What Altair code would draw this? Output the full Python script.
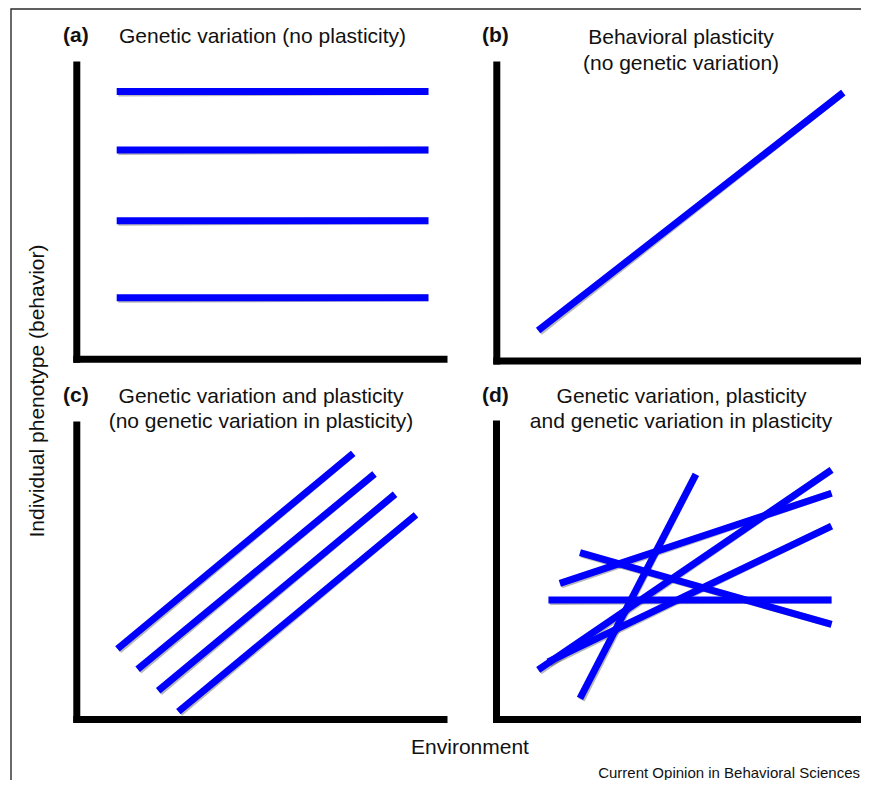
import altair as alt
import pandas as pd

# ---------------- data (conceptual reaction norms, units 0-10 per panel) -------------
# (a) genetic variation, no plasticity
a_x0 = [1.10, 1.10, 1.10, 1.10]
a_x1 = [9.59, 9.59, 9.59, 9.59]
a_y0 = [9.08, 7.09, 4.69, 2.07]
a_y1 = [9.08, 7.09, 4.69, 2.07]
# (b) plasticity, no genetic variation
b_x0 = [1.10]
b_x1 = [9.13]
b_y0 = [1.01]
b_y1 = [9.05]
# (c) genetic variation and plasticity (parallel)
c_x0 = [1.12, 1.67, 2.23, 2.78]
c_x1 = [7.54, 8.12, 8.68, 9.25]
c_y0 = [2.38, 1.69, 0.96, 0.25]
c_y1 = [9.02, 8.32, 7.63, 6.93]
# (d) genetic variation in plasticity
d_x0 = [2.21, 1.11, 1.68, 1.37, 1.38, 2.21]
d_x1 = [5.26, 8.83, 8.83, 8.83, 8.83, 8.83]
d_y0 = [0.70, 1.66, 4.59, 1.93, 4.03, 5.63]
d_y1 = [8.28, 8.43, 7.64, 6.53, 4.03, 3.20]

titles = {
    "a": ["Genetic variation (no plasticity)"],
    "b": ["Behavioral plasticity", "(no genetic variation)"],
    "c": ["Genetic variation and plasticity", "(no genetic variation in plasticity)"],
    "d": ["Genetic variation, plasticity", "and genetic variation in plasticity"],
}
y_label = "Individual phenotype (behavior)"
x_label = "Environment"
credit = "Current Opinion in Behavioral Sciences"

# ---------------- layout --------------------------------------------------------------
W, H = 853, 772
FONT = "Liberation Sans"
BLUE = "#0000ff"

def frame(x0, x1, y0, y1):
    return pd.DataFrame({"x0": x0, "x1": x1, "y0": y0, "y1": y1})

def panel(df, xr, yr):
    x_axis = alt.Axis(orient="bottom", offset=yr[0] - H, domain=True, domainColor="black",
                      domainWidth=7, domainCap="square", ticks=False, labels=False,
                      grid=False, title=None)
    y_axis = alt.Axis(orient="left", offset=-xr[0], domain=True, domainColor="black",
                      domainWidth=7, domainCap="square", ticks=False, labels=False,
                      grid=False, title=None)
    enc = dict(
        x=alt.X("x0:Q", scale=alt.Scale(domain=[0, 10], range=list(xr), nice=False, zero=False), axis=x_axis),
        x2="x1:Q",
        y=alt.Y("y0:Q", scale=alt.Scale(domain=[0, 10], range=list(yr), nice=False, zero=False), axis=y_axis),
        y2="y1:Q",
    )
    shadow = alt.Chart(df).mark_rule(color="black", opacity=0.28, strokeWidth=7,
                                     strokeCap="butt", xOffset=1.5, yOffset=1.5).encode(**enc)
    line = alt.Chart(df).mark_rule(color=BLUE, strokeWidth=7, strokeCap="butt").encode(**enc)
    return alt.layer(shadow, line)

dummy = pd.DataFrame({"k": [0]})

def txt(s, x, y, size=21, bold=False, align="center", angle=0):
    kw = dict(text=s, align=align, baseline="alphabetic", fontSize=size, font=FONT,
              fontWeight="bold" if bold else "normal", color="#111111")
    if angle:
        kw["angle"] = angle
    return alt.Chart(dummy).mark_text(**kw).encode(x=alt.value(x), y=alt.value(y))

pa = panel(frame(a_x0, a_x1, a_y0, a_y1), (68.3, 435.5), (350.7, 56.5))
pb = panel(frame(b_x0, b_x1, b_y0, b_y1), (488.3, 868.3), (352.5, 56.5))
pc = panel(frame(c_x0, c_x1, c_y0, c_y1), (68.3, 435.5), (711.0, 416.5))
pd_ = panel(frame(d_x0, d_x1, d_y0, d_y1), (488.0, 868.0), (711.0, 415.5))

border = alt.Chart(dummy).mark_rect(fillOpacity=0, stroke="#2b2b2b", strokeWidth=1.4).encode(
    x=alt.value(3), y=alt.value(1), x2=alt.value(2000), y2=alt.value(2000))

texts = [
    txt("(a)", 55, 34, bold=True, align="left"),
    txt(titles["a"][0], 254.5, 35),
    txt("(b)", 474, 34, bold=True, align="left"),
    txt(titles["b"][0], 673, 36),
    txt(titles["b"][1], 673, 62),
    txt("(c)", 55, 394, bold=True, align="left"),
    txt(titles["c"][0], 253, 395),
    txt(titles["c"][1], 253, 420),
    txt("(d)", 474, 394, bold=True, align="left"),
    txt(titles["d"][0], 673.5, 395),
    txt(titles["d"][1], 673, 420),
    txt(x_label, 462, 746),
    txt(credit, 852, 769.5, size=15, align="right"),
    txt(y_label, 35.5, 383, angle=270),
]

chart = alt.layer(border, pa, pb, pc, pd_, *texts).resolve_scale(
    x="independent", y="independent"
).properties(
    width=W, height=H, autosize=alt.AutoSizeParams(type="none"), padding=0
).configure_view(strokeWidth=0)

chart.save("out.html", embed_options={"renderer": "svg", "actions": False})
